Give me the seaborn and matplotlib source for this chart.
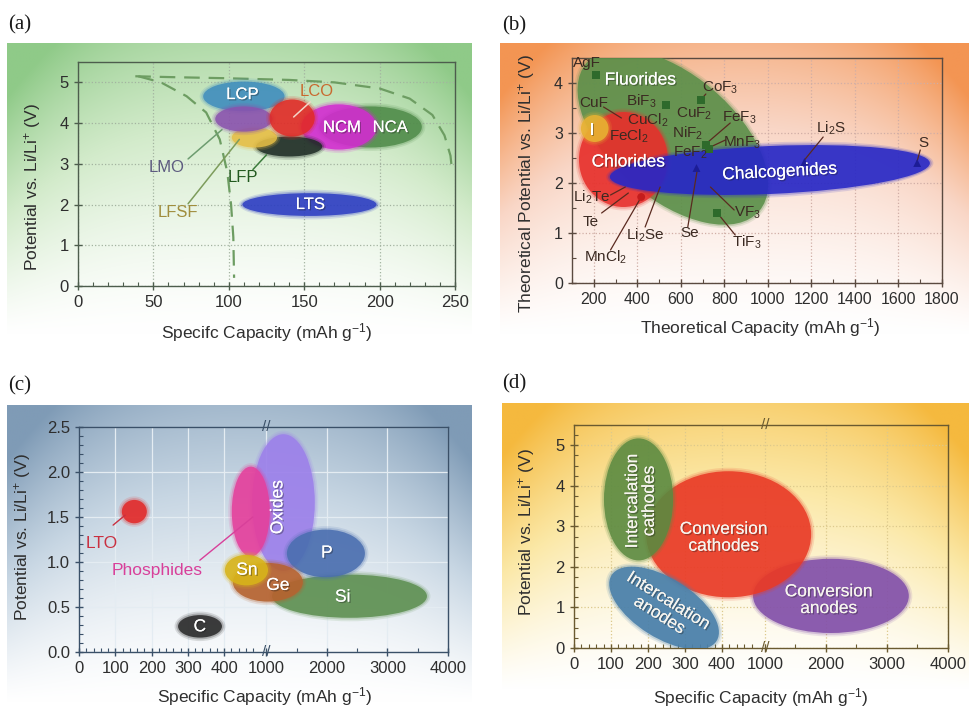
import numpy as np
import pandas as pd
import matplotlib
matplotlib.use("Agg")
import matplotlib.pyplot as plt
import matplotlib.transforms as mtransforms
import matplotlib.patheffects as pe
import seaborn as sns
from matplotlib.patches import Ellipse
from matplotlib.colors import to_rgb
from matplotlib.ticker import FixedLocator, MultipleLocator, FormatStrFormatter

sns.set_theme(style="white")
plt.rcParams["font.family"] = ["Liberation Sans", "DejaVu Sans"]
plt.rcParams["mathtext.fontset"] = "custom"
plt.rcParams["mathtext.rm"] = "Liberation Sans"
plt.rcParams["mathtext.it"] = "Liberation Sans:italic"
plt.rcParams["mathtext.bf"] = "Liberation Sans:bold"

# ---------------- (a) intercalation cathodes ----------------
a_names = ["NCA", "NCM", "LFP", "LFSF", "LCP", "LMO", "LCO", "LTS"]
a_cap_lo = [160, 148, 118, 102, 83, 91, 127, 109]
a_cap_hi = [228, 198, 162, 132, 137, 129, 157, 198]
a_v_lo = [3.40, 3.35, 3.18, 3.40, 4.29, 3.79, 3.67, 1.72]
a_v_hi = [4.41, 4.46, 3.67, 3.89, 5.02, 4.41, 4.58, 2.28]
a_colors = ["#4f8b49", "#d22bd0", "#1d2b24", "#e6be45", "#3f8dbd", "#8a52ae", "#e12a26", "#2b3cc2"]

a_lab_text = ["LCP", "NCM", "NCA", "LTS", "LCO", "LMO", "LFP", "LFSF"]
a_lab_x = [109, 175, 207, 154, 158.5, 59, 109.5, 66.5]
a_lab_y = [4.70, 3.89, 3.89, 2.00, 4.78, 2.90, 2.66, 1.80]
a_lab_color = ["white", "white", "white", "white", "#c9692f", "#5d5b80", "#22591f", "#a08d3d"]

a_lead_x0 = [154, 73, 73, 116]
a_lead_y0 = [4.52, 3.12, 2.02, 2.86]
a_lead_x1 = [143, 95.5, 107, 125]
a_lead_y1 = [4.15, 3.84, 3.60, 3.22]
a_lead_color = ["#f4d6c8", "#6d9c70", "#7d9c5c", "#3c7c3c"]

a_outer_cap = [38, 60, 100, 140, 170, 200, 220, 235, 243, 247, 248]
a_outer_v = [5.15, 5.13, 5.10, 5.06, 5.00, 4.85, 4.60, 4.20, 3.70, 3.20, 2.85]
a_inner_cap = [40, 55, 72, 85, 94, 99, 101.5, 103, 103.5]
a_inner_v = [5.15, 5.00, 4.66, 4.26, 3.60, 2.80, 2.00, 1.20, 0.20]

# ---------------- (b) conversion cathodes ----------------
b_names = ["Fluorides", "Chlorides", "I", "Chalcogenides"]
b_cap_lo = [41, 132, 141, 273]
b_cap_hi = [1086, 541, 268, 1745]
b_v_lo = [1.68, 1.52, 2.82, 1.78]
b_v_hi = [4.16, 3.42, 3.36, 2.74]
b_angle = [-40.6, 0, 0, 2.5]
b_colors = ["#5b8f49", "#e7302c", "#e8b232", "#2828c6"]

b_reg_x = [414, 359, 191, 1055]
b_reg_y = [4.06, 2.42, 3.06, 2.22]
b_reg_rot = [0, 0, 0, 3]

b_pt_x = [209, 532, 691, 714, 728, 768, 418, 1168, 1686, 672]
b_pt_y = [4.16, 3.56, 3.66, 2.76, 2.68, 1.40, 1.72, 2.42, 2.40, 2.30]
b_pt_kind = ["F", "F", "F", "F", "F", "F", "Cl", "Ch", "Ch", "Ch"]

b_lab_text = ["AgF", "CuF", "BiF$_3$", "CuCl$_2$", "CuF$_2$", "CoF$_3$", "FeF$_3$",
              "FeCl$_2$", "NiF$_2$", "MnF$_3$", "FeF$_2$", "Li$_2$S", "S",
              "Li$_2$Te", "Te", "Li$_2$Se", "Se", "VF$_3$", "TiF$_3$", "MnCl$_2$"]
b_lab_x = [168, 200, 420, 448, 660, 782, 868, 359, 632, 882, 645, 1291, 1714,
           191, 186, 436, 641, 905, 905, 255]
b_lab_y = [4.40, 3.60, 3.64, 3.26, 3.38, 3.90, 3.30, 2.94, 3.00, 2.80, 2.60, 3.10, 2.80,
           1.72, 1.22, 0.96, 1.00, 1.40, 0.82, 0.52]

b_lead_x0 = [245, 715, 827, 805, 1254, 1700, 277, 236, 277, 436, 632, 845, 850]
b_lead_y0 = [3.52, 3.78, 3.20, 2.86, 2.92, 2.66, 1.76, 1.40, 0.66, 1.12, 1.12, 1.46, 0.96]
b_lead_x1 = [327, 691, 720, 736, 1168, 1686, 345, 359, 418, 505, 677, 736, 768]
b_lead_y1 = [3.30, 3.66, 2.80, 2.72, 2.46, 2.44, 1.92, 1.80, 1.72, 1.92, 2.30, 1.92, 1.40]

# ---------------- (c) anodes ----------------
c_names = ["Oxides", "Phosphides", "Si", "P", "Ge", "Sn", "LTO", "C"]
c_cap_lo = [477, 421, 1096, 1341, 424, 402, 118, 273]
c_cap_hi = [1802, 1060, 3653, 2629, 1605, 1030, 187, 394]
c_v_lo = [0.90, 1.06, 0.38, 0.83, 0.56, 0.74, 1.43, 0.16]
c_v_hi = [2.42, 2.06, 0.86, 1.36, 0.99, 1.08, 1.69, 0.41]
c_colors = ["#9c80ea", "#e4409c", "#5e9052", "#4b6fb0", "#b6622f", "#d8b41a", "#e22a2a", "#2b2b2b"]

c_lab_text = ["Oxides", "Sn", "Ge", "P", "Si", "C", "Phosphides", "LTO"]
c_lab_x = [1192, 463, 1192, 2000, 2263, 333, 214, 63]
c_lab_y = [1.61, 0.91, 0.74, 1.10, 0.61, 0.28, 0.91, 1.21]
c_lab_rot = [90, 0, 0, 0, 0, 0, 0, 0]
c_lab_color = ["white", "white", "white", "white", "white", "white", "#d8409a", "#c93040"]

c_lead_x0 = [333, 94]
c_lead_y0 = [1.02, 1.41]
c_lead_x1 = [479, 127]
c_lead_y1 = [1.50, 1.52]
c_lead_color = ["#d8409a", "#c93040"]

# ---------------- (d) overview ----------------
d_names = ["Conversion anodes", "Conversion cathodes", "Intercalation cathodes", "Intercalation anodes"]
d_cap_lo = [484, 195, 81, 76]
d_cap_hi = [3358, 1758, 268, 411]
d_v_lo = [0.37, 1.25, 2.16, 0.25]
d_v_hi = [2.20, 4.36, 5.17, 1.72]
d_angle = [0, 0, 0, -32]
d_alpha = [0.9, 0.88, 0.85, 0.9]
d_colors = ["#8452aa", "#e93a26", "#5b8a40", "#4a80aa"]

d_lab_text = ["Conversion\nanodes", "Conversion\ncathodes", "Intercalation\ncathodes", "Intercalation\nanodes"]
d_lab_x = [2048, 405, 181, 243]
d_lab_y = [1.18, 2.72, 3.63, 0.98]
d_lab_rot = [0, 0, 90, -32]

cap_ticks_broken = [0, 100, 200, 300, 400, 1000, 2000, 3000, 4000]

# ---------------- figure helpers ----------------
W, H = 969, 707
fig = plt.figure(figsize=(W / 100, H / 100), dpi=100)


def frac_rect(x0, y0, x1, y1):
    return [x0 / W, 1 - y1 / H, (x1 - x0) / W, (y1 - y0) / H]


def backdrop(rect, base, mid):
    bg = fig.add_axes(frac_rect(*rect), zorder=-10)
    bg.set_axis_off()
    ny, nx = 200, 300
    u = np.linspace(0, 1, nx)[None, :]
    v = np.linspace(0, 1, ny)[:, None]
    edge = np.abs(2 * u - 1)
    w = (1 - v) ** 1.4 * (0.72 + 0.28 * edge ** 2) + 0.25 * edge ** 4 * (1 - v ** 2)
    t = np.clip(w, 0, 1)[..., None]
    white = np.ones(3)
    m = np.array(to_rgb(mid))
    b = np.array(to_rgb(base))
    lo = white + (m - white) * np.clip(t / 0.45, 0, 1)
    hi = m + (b - m) * np.clip((t - 0.45) / 0.55, 0, 1)
    img = np.where(t < 0.45, lo, hi)
    bg.imshow(img, aspect="auto", extent=(0, 1, 0, 1), interpolation="bilinear")


def panel(rect, spine_color, grid_color, grid_ls):
    ax = fig.add_axes(frac_rect(*rect), zorder=1)
    ax.set_facecolor("none")
    for s in ax.spines.values():
        s.set_visible(True)
        s.set_color(spine_color)
        s.set_linewidth(1.0)
    ax.grid(True, color=grid_color, linestyle=grid_ls, linewidth=0.9)
    ax.set_axisbelow(True)
    ax.tick_params(which="major", direction="inout", length=6, width=1,
                   color=spine_color, labelsize=12, labelcolor="#2e2e2e",
                   bottom=True, left=True, top=False, right=False)
    ax.tick_params(which="minor", direction="in", length=3, width=0.8,
                   color=spine_color, bottom=True, left=True)
    return ax


def label_axes(ax, xlabel, ylabel, xl_pos, yl_pos):
    ax.set_xlabel(xlabel, fontsize=12.5, color="#2e2e2e")
    ax.set_ylabel(ylabel, fontsize=12.5, color="#2e2e2e")
    ax.xaxis.set_label_coords(*xl_pos)
    ax.yaxis.set_label_coords(*yl_pos)
    ax.xaxis.label.set_va("center")
    ax.yaxis.label.set_va("center")


def blob(ax, xlo, xhi, ylo, yhi, color, angle=0.0, alpha=0.88, z=3):
    to_in = ax.transData + fig.dpi_scale_trans.inverted()
    (x0, y0), (x1, y1) = to_in.transform([(xlo, ylo), (xhi, yhi)])
    c = ((x0 + x1) / 2, (y0 + y1) / 2)
    w, h = x1 - x0, y1 - y0
    for grow, a in ((0.07, 0.14), (0.035, 0.25)):
        ax.add_patch(Ellipse(c, w + grow, h + grow, angle=angle, transform=fig.dpi_scale_trans,
                             fc=color, ec="none", alpha=a, zorder=z))
    ax.add_patch(Ellipse(c, w, h, angle=angle, transform=fig.dpi_scale_trans,
                         fc=color, ec="none", alpha=alpha, zorder=z))


def broken_scale(B, k):
    def fwd(x):
        x = np.asarray(x, float)
        return np.where(x <= B, x, np.where(x >= 1000, B + (x - 1000) * k, B))

    def inv(u):
        u = np.asarray(u, float)
        return np.where(u <= B, u, 1000 + (u - B) / k)
    return fwd, inv


def break_marks(ax, color):
    tr = mtransforms.blended_transform_factory(ax.transData, ax.transAxes)
    for yy in (0, 1):
        ax.text(1000, yy, "//", transform=tr, ha="center", va="center", fontsize=11,
                color=color, clip_on=False, zorder=8)


shadow = [pe.withSimplePatchShadow(offset=(1, -1), shadow_rgbFace="k", alpha=0.35), pe.Normal()]

# backgrounds
backdrop((7, 43, 472, 335), "#8fca88", "#d3ebcb")
backdrop((500, 43, 969, 335), "#f39553", "#f9d6c6")
backdrop((7, 405, 472, 703), "#7f9bb6", "#c7d6e3")
backdrop((502, 403, 969, 690), "#f5b93e", "#fbe8a6")

for txt, x, y in (("(a)", 8, 25), ("(b)", 502, 26), ("(c)", 8, 386), ("(d)", 502, 384)):
    fig.text(x / W, 1 - y / H, txt, family="Liberation Serif", fontsize=15,
             ha="left", va="center", color="#1a1a1a")

# ---------------- panel (a) ----------------
ax = panel((78, 62, 455, 286), "#4d5d4d", "#a3b3a0", ":")
ax.set_xlim(0, 250)
ax.set_ylim(0, 5.5)
ax.xaxis.set_major_locator(MultipleLocator(50))
ax.xaxis.set_minor_locator(MultipleLocator(10))
ax.yaxis.set_major_locator(MultipleLocator(1))
label_axes(ax, "Specifc Capacity (mAh g$^{-1}$)", "Potential vs. Li/Li$^{+}$ (V)",
           (0.5, -0.21), (-0.122, 0.44))
sns.lineplot(x=a_outer_cap, y=a_outer_v, sort=False, estimator=None, ax=ax,
             color="#6d9d62", linestyle=(0, (7, 4)), linewidth=1.6, zorder=2)
sns.lineplot(x=a_inner_cap, y=a_inner_v, sort=False, estimator=None, ax=ax,
             color="#6d9d62", linestyle=(0, (7, 4)), linewidth=1.6, zorder=2)
for i in range(len(a_names)):
    blob(ax, a_cap_lo[i], a_cap_hi[i], a_v_lo[i], a_v_hi[i], a_colors[i],
         alpha=0.85, z=3 + i * 0.1)
for i in range(len(a_lead_x0)):
    ax.plot([a_lead_x0[i], a_lead_x1[i]], [a_lead_y0[i], a_lead_y1[i]],
            color=a_lead_color[i], lw=1.1, zorder=5)
for t, x, y, c in zip(a_lab_text, a_lab_x, a_lab_y, a_lab_color):
    ax.text(x, y, t, ha="center", va="center", fontsize=12, color=c, zorder=6,
            path_effects=shadow if c == "white" else None)

# ---------------- panel (b) ----------------
ax = panel((572, 58, 942, 283), "#5a4a40", "#d0aea6", ":")
ax.set_xlim(100, 1800)
ax.set_ylim(0, 4.5)
ax.xaxis.set_major_locator(FixedLocator(np.arange(200, 1801, 200)))
ax.xaxis.set_minor_locator(MultipleLocator(100))
ax.yaxis.set_major_locator(MultipleLocator(1))
ax.yaxis.set_minor_locator(MultipleLocator(0.5))
ax.tick_params(labelsize=11.5)
for i in range(len(b_names)):
    blob(ax, b_cap_lo[i], b_cap_hi[i], b_v_lo[i], b_v_hi[i], b_colors[i],
         angle=b_angle[i], alpha=0.88, z=3 + i * 0.1)
for i in range(len(b_lead_x0)):
    ax.plot([b_lead_x0[i], b_lead_x1[i]], [b_lead_y0[i], b_lead_y1[i]],
            color="#5a2a20", lw=0.9, zorder=5)
pts = pd.DataFrame({"cap": b_pt_x, "v": b_pt_y, "kind": b_pt_kind})
sns.scatterplot(data=pts, x="cap", y="v", hue="kind", style="kind",
                palette={"F": "#2e6a2b", "Cl": "#c41c1c", "Ch": "#1c1c96"},
                markers={"F": "s", "Cl": "o", "Ch": "^"}, s=32, linewidth=0,
                legend=False, ax=ax, zorder=6)
label_axes(ax, "Theoretical Capacity (mAh g$^{-1}$)", "Theoretical Potential vs. Li/Li$^{+}$ (V)",
           (0.51, -0.20), (-0.122, 0.44))
for t, x, y in zip(b_lab_text, b_lab_x, b_lab_y):
    ax.text(x, y, t, ha="center", va="center", fontsize=11, color="#3b2a22", zorder=7)
for t, x, y, r in zip(b_names, b_reg_x, b_reg_y, b_reg_rot):
    ax.text(x, y, t, ha="center", va="center", fontsize=12.5, color="white",
            rotation=r, zorder=7, path_effects=shadow)

# ---------------- panel (c) ----------------
ax = panel((79, 427, 448, 652), "#3a5068", "#e4ecf2", "-")
ax.set_xscale("function", functions=broken_scale(516, 0.167))
ax.set_xlim(0, 4000)
ax.set_ylim(0, 2.5)
ax.xaxis.set_major_locator(FixedLocator(cap_ticks_broken))
ax.xaxis.set_major_formatter(FormatStrFormatter("%d"))
ax.xaxis.set_minor_locator(FixedLocator([x for x in range(20, 500, 20) if x % 100] + [1500, 2500, 3500]))
ax.yaxis.set_major_locator(MultipleLocator(0.5))
ax.yaxis.set_minor_locator(MultipleLocator(0.1))
ax.yaxis.set_major_formatter(FormatStrFormatter("%.1f"))
label_axes(ax, "Specific Capacity (mAh g$^{-1}$)", "Potential vs. Li/Li$^{+}$ (V)",
           (0.504, -0.20), (-0.152, 0.51))
for i in range(len(c_names)):
    blob(ax, c_cap_lo[i], c_cap_hi[i], c_v_lo[i], c_v_hi[i], c_colors[i],
         alpha=0.88, z=3 + i * 0.1)
for i in range(len(c_lead_x0)):
    ax.plot([c_lead_x0[i], c_lead_x1[i]], [c_lead_y0[i], c_lead_y1[i]],
            color=c_lead_color[i], lw=1.0, zorder=5)
for t, x, y, r, c in zip(c_lab_text, c_lab_x, c_lab_y, c_lab_rot, c_lab_color):
    ax.text(x, y, t, ha="center", va="center", fontsize=12.5, color=c, rotation=r,
            zorder=7, path_effects=shadow if c == "white" else None)
break_marks(ax, "#3a5068")

# ---------------- panel (d) ----------------
ax = panel((574, 425, 948, 648), "#6a5a30", "#dcc98c", ":")
ax.set_xscale("function", functions=broken_scale(516, 0.165))
ax.set_xlim(0, 4000)
ax.set_ylim(0, 5.5)
ax.xaxis.set_major_locator(FixedLocator(cap_ticks_broken))
ax.xaxis.set_major_formatter(FormatStrFormatter("%d"))
ax.xaxis.set_minor_locator(FixedLocator([x for x in range(20, 500, 20) if x % 100] + [1500, 2500, 3500]))
ax.yaxis.set_major_locator(MultipleLocator(1))
ax.yaxis.set_minor_locator(MultipleLocator(0.25))
label_axes(ax, "Specific Capacity (mAh g$^{-1}$)", "Potential vs. Li/Li$^{+}$ (V)",
           (0.50, -0.22), (-0.126, 0.52))
for i in range(len(d_names)):
    blob(ax, d_cap_lo[i], d_cap_hi[i], d_v_lo[i], d_v_hi[i], d_colors[i],
         angle=d_angle[i], alpha=d_alpha[i], z=3 + i * 0.1)
for t, x, y, r in zip(d_lab_text, d_lab_x, d_lab_y, d_lab_rot):
    ax.text(x, y, t, ha="center", va="center", fontsize=12.5, color="#f6f4ee",
            rotation=r, rotation_mode="anchor", linespacing=1.15, zorder=7,
            path_effects=shadow)
break_marks(ax, "#6a5a30")

fig.savefig("out.png", dpi=100)
